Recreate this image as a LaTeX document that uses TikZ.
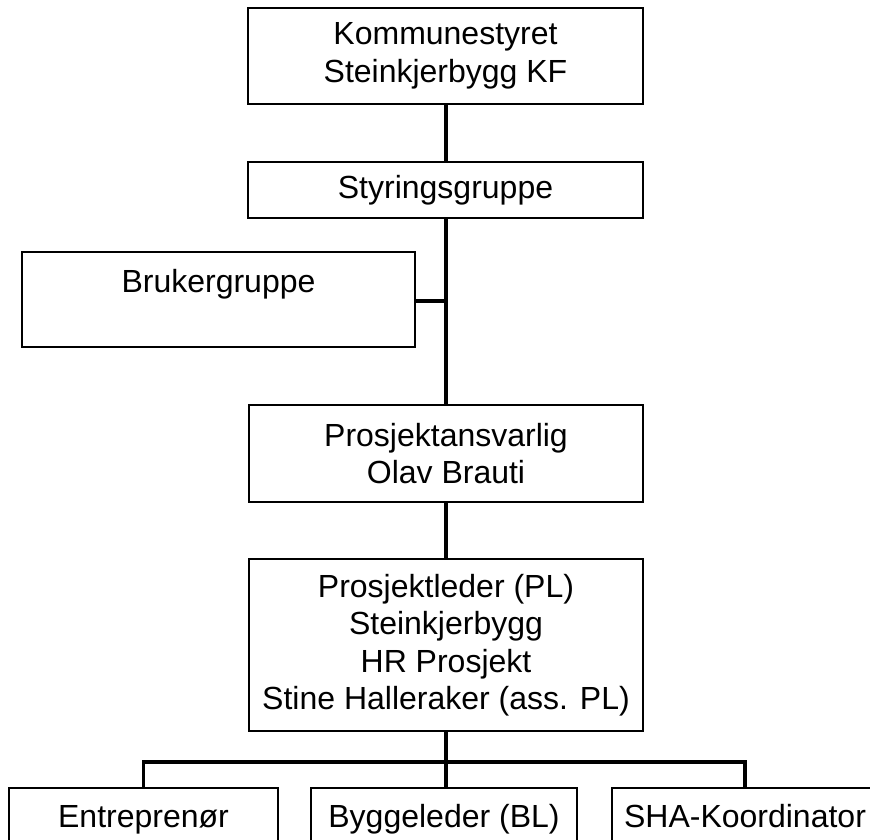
\documentclass[tikz,border=0pt]{standalone}
\usepackage{fontspec}
\setmainfont{Liberation Sans}
\begin{document}
\begin{tikzpicture}[x=1pt,y=-1pt,
  box/.style={draw=black, line width=1.6pt, inner sep=0pt, align=center,
    font=\fontsize{32}{37.5}\selectfont, fill=white},
  leaf/.style={box, minimum height=56pt, text height=29pt, text depth=7pt},
  conn/.style={line width=3.8pt, draw=black}]
\useasboundingbox (0,0) rectangle (870,840);
\clip (0,0) rectangle (870,840);
\node[box, minimum width=395pt, minimum height=96pt] (kom) at (445.5,56) {Kommunestyret\\Steinkjerbygg KF};
\node[box, minimum width=395pt, minimum height=56pt] (sty) at (445.5,190) {Styringsgruppe};
\node[box, minimum width=393pt, minimum height=95pt] (bg) at (218.5,299.5) {Brukergruppe\\~};
\node[box, minimum width=394pt, minimum height=97pt] (pa) at (446,453.5) {Prosjektansvarlig\\Olav Brauti};
\node[box, minimum width=394pt, minimum height=172pt] (pl) at (446,645) {Prosjektleder (PL)\\Steinkjerbygg\\HR Prosjekt\\Stine Halleraker (ass. PL)};
\node[leaf, minimum width=269pt] (ent) at (143.5,816) {Entreprenør};
\node[leaf, minimum width=266pt] (bl) at (444,816) {Byggeleder (BL)};
\node[leaf, minimum width=266pt] (sha) at (745,816) {SHA-Koordinator};
\coordinate (bar) at (446,762);
\coordinate (bgj) at (446,301);
\draw[conn] (kom.south -| bar) -- (sty.north -| bar);
\draw[conn] (sty.south -| bar) -- (pa.north -| bar);
\draw[conn] (bg.east |- bgj) -- (bgj);
\draw[conn] (pa.south -| bar) -- (pl.north -| bar);
\draw[conn] (pl.south -| bar) -- (bar);
\draw[conn] (ent.north) |- (bar) -| (sha.north);
\draw[conn] (bar) -- (bl.north -| bar);
\end{tikzpicture}
\end{document}
